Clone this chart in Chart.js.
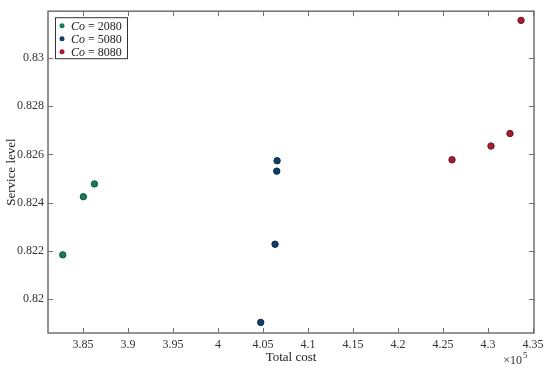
<!DOCTYPE html>
<html>
<head>
<meta charset="utf-8">
<script src="https://cdn.jsdelivr.net/npm/chart.js@4"></script>
<style>
  html, body { margin: 0; padding: 0; background: #fff; }
  #wrap { width: 550px; height: 372px; }
</style>
</head>
<body>
<div id="wrap"><canvas id="scatter"></canvas></div>
<script>
// values (total cost in units, service level as fraction)
const seriesNames = ['2080', '5080', '8080'];
const seriesColors = ['#1b7a58', '#0f3e68', '#a51d2f'];
const seriesEdges = ['#10553d', '#092a48', '#701320'];

const costCo2080 = [382740, 385030, 386260];
const levelCo2080 = [0.82184, 0.82425, 0.82478];

const costCo5080 = [406560, 406520, 406330, 404740];
const levelCo5080 = [0.82574, 0.82531, 0.82228, 0.81904];

const costCo8080 = [433670, 432440, 430330, 426000];
const levelCo8080 = [0.83156, 0.82687, 0.82635, 0.82578];

// tick positions
const xTicks = [385000, 390000, 395000, 400000, 405000, 410000, 415000, 420000, 425000, 430000, 435000];
const yTicks = [0.82, 0.822, 0.824, 0.826, 0.828, 0.83];

const costs = [costCo2080, costCo5080, costCo8080];
const levels = [levelCo2080, levelCo5080, levelCo8080];

const serif = '"Liberation Serif", "Times New Roman", serif';
const frameColor = '#707070';

// MATLAB style box with inward ticks, legend and x10^5 note
const matlabBox = {
  id: 'matlabBox',
  afterDraw(chart) {
    const { ctx, chartArea: a, scales } = chart;
    const len = 5;
    ctx.save();
    ctx.strokeStyle = frameColor;
    ctx.lineWidth = 1;
    ctx.beginPath();
    scales.x.ticks.forEach(t => {
      const px = Math.round(scales.x.getPixelForValue(t.value)) + 0.5;
      ctx.moveTo(px, a.bottom); ctx.lineTo(px, a.bottom - len);
      ctx.moveTo(px, a.top); ctx.lineTo(px, a.top + len);
    });
    scales.y.ticks.forEach(t => {
      const py = Math.round(scales.y.getPixelForValue(t.value)) + 0.5;
      ctx.moveTo(a.left, py); ctx.lineTo(a.left + len, py);
      ctx.moveTo(a.right, py); ctx.lineTo(a.right - len, py);
    });
    ctx.stroke();
    ctx.lineWidth = 1.5;
    ctx.strokeRect(a.left, a.top, a.right - a.left, a.bottom - a.top);

    // legend
    const lx = a.left + 7, ly = a.top + 6, lw = 72, lh = 41;
    ctx.fillStyle = '#fff';
    ctx.fillRect(lx, ly, lw, lh);
    ctx.strokeStyle = '#333';
    ctx.lineWidth = 1;
    ctx.strokeRect(lx + 0.5, ly + 0.5, lw, lh);
    chart.data.datasets.forEach((ds, i) => {
      const cy = ly + 8.5 + i * 13;
      ctx.beginPath();
      ctx.arc(lx + 7, cy, 2.5, 0, Math.PI * 2);
      ctx.fillStyle = ds.backgroundColor;
      ctx.fill();
      ctx.textBaseline = 'middle';
      ctx.textAlign = 'left';
      ctx.fillStyle = '#222';
      ctx.font = 'italic 12px ' + serif;
      ctx.fillText('Co', lx + 16, cy + 1);
      const w = ctx.measureText('Co').width;
      ctx.font = '12px ' + serif;
      ctx.fillText(' = ' + seriesNames[i], lx + 16 + w, cy + 1);
    });

    // exponent label
    ctx.fillStyle = '#333';
    ctx.font = '12px ' + serif;
    ctx.textAlign = 'right';
    ctx.textBaseline = 'middle';
    ctx.fillText('\u00d710', a.right - 12, a.bottom + 28);
    ctx.font = '9px ' + serif;
    ctx.textAlign = 'left';
    ctx.fillText('5', a.right - 11, a.bottom + 23);
    ctx.restore();
  }
};

new Chart(document.getElementById('scatter'), {
  type: 'scatter',
  data: {
    datasets: costs.map((c, i) => ({
      label: 'Co = ' + seriesNames[i],
      data: c.map((x, j) => ({ x: x, y: levels[i][j] })),
      backgroundColor: seriesColors[i],
      borderColor: seriesEdges[i],
      borderWidth: 1,
      pointRadius: 3.2,
      pointHoverRadius: 3.2
    }))
  },
  options: {
    responsive: true,
    maintainAspectRatio: false,
    animation: false,
    layout: { padding: { left: 0, right: 16, top: 10, bottom: 0 } },
    plugins: { legend: { display: false }, tooltip: { enabled: false } },
    scales: {
      x: {
        type: 'linear',
        min: 381100,
        max: 435110,
        afterFit: s => { s.height = 39; },
        afterBuildTicks: s => { s.ticks = xTicks.map(v => ({ value: v })); },
        grid: { display: false, drawTicks: false },
        border: { display: false },
        ticks: {
          padding: 5,
          color: '#333',
          font: { family: serif, size: 12 },
          maxRotation: 0,
          autoSkip: false,
          callback: v => String(Number((v / 1e5).toFixed(2)))
        },
        title: {
          display: true,
          text: 'Total cost',
          color: '#222',
          font: { family: serif, size: 13 },
          padding: { top: 0, bottom: 7 }
        }
      },
      y: {
        min: 0.8186,
        max: 0.83194,
        afterFit: s => { s.width = 48; },
        afterBuildTicks: s => { s.ticks = yTicks.map(v => ({ value: v })); },
        grid: { display: false, drawTicks: false },
        border: { display: false },
        ticks: {
          padding: 4,
          color: '#333',
          font: { family: serif, size: 12 },
          autoSkip: false,
          callback: v => String(Number(v.toFixed(3)))
        },
        title: {
          display: true,
          text: 'Service level',
          color: '#222',
          font: { family: serif, size: 13 },
          padding: { top: 4, bottom: 0 }
        }
      }
    }
  },
  plugins: [matlabBox]
});
</script>
</body>
</html>
